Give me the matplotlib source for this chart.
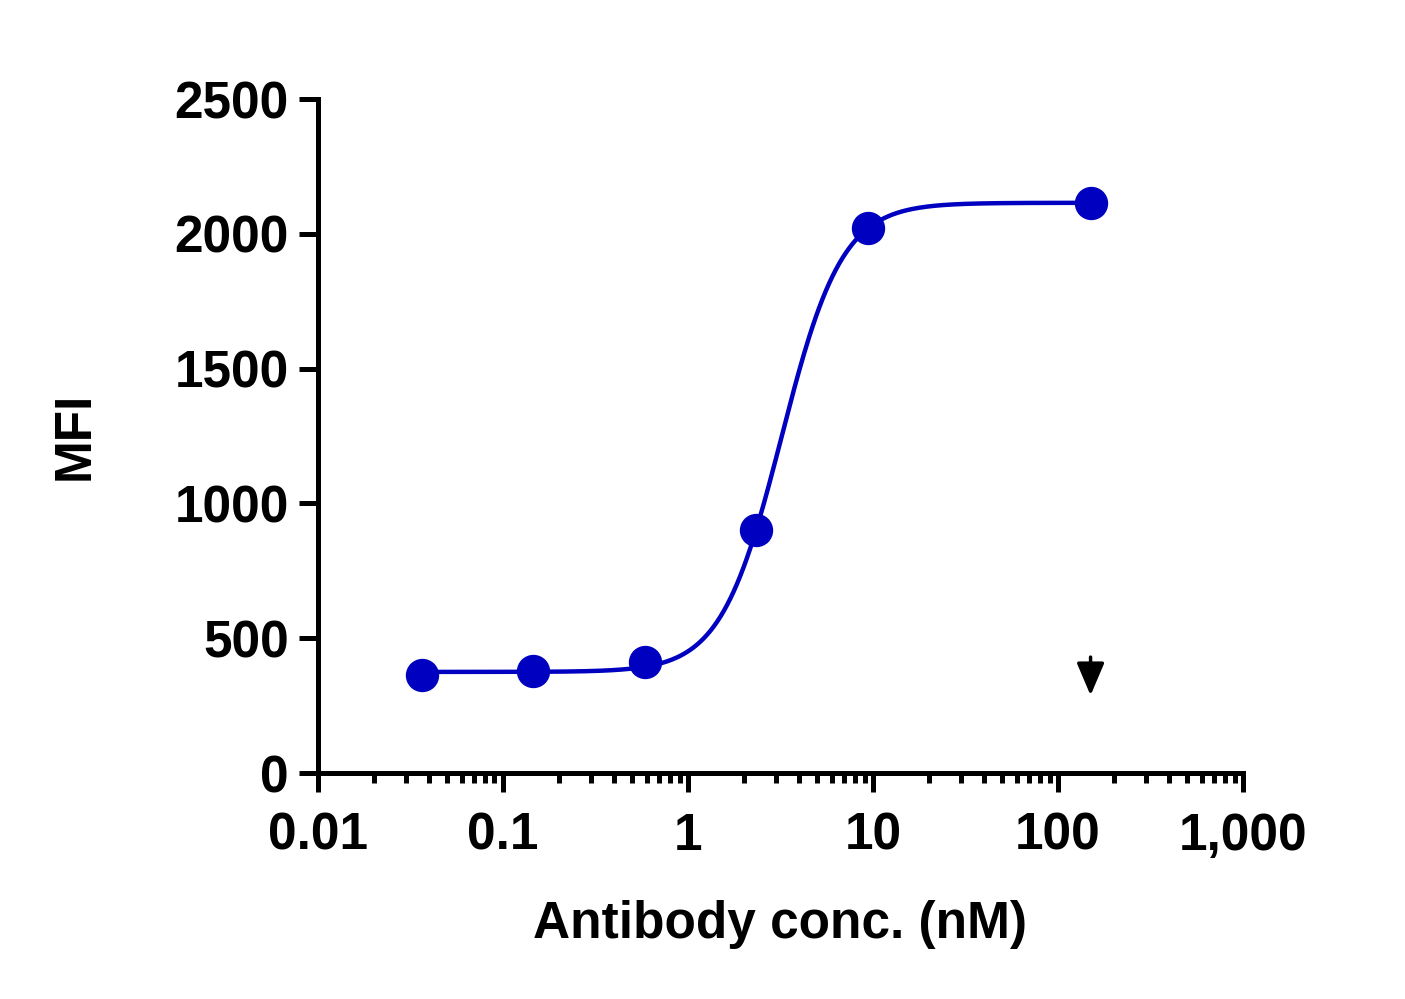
import numpy as np
import matplotlib.pyplot as plt
from matplotlib.ticker import FixedLocator, LogLocator, NullFormatter

plt.rcParams['font.family'] = ['Liberation Sans', 'DejaVu Sans']
plt.rcParams['font.weight'] = 'bold'

# measured points
conc = [0.0366, 0.146, 0.586, 2.34, 9.375, 150]
mfi = [365, 378, 410, 900, 2020, 2115]

# 4PL fit
bottom, top, ec50, hill = 375, 2115, 3.2, 2.65

# arrow marker (top and tip, data units)
arrow_x = 150
arrow_top = 430
arrow_tip = 288

xticks = [0.01, 0.1, 1, 10, 100, 1000]
xlabels = ['0.01', '0.1', '1', '10', '100', '1,000']
yticks = [0, 500, 1000, 1500, 2000, 2500]

blue = '#0000c0'

fig = plt.figure(figsize=(14.05, 9.99), dpi=100)
ax = fig.add_axes([0.2263, 0.2262, 0.6584, 0.6747])

xs = np.logspace(np.log10(conc[0]), np.log10(conc[-1]), 400)
ys = bottom + (top - bottom) / (1 + (ec50 / xs) ** hill)
ax.plot(xs, ys, color=blue, lw=3.2, zorder=2)
ax.plot(conc, mfi, 'o', color=blue, ms=23, zorder=3)

ax.annotate('', xy=(arrow_x, arrow_tip), xytext=(arrow_x, arrow_top),
            arrowprops=dict(arrowstyle='-|>,head_length=2.0,head_width=0.85',
                            color='black', lw=2.5, shrinkA=0, shrinkB=0))

ax.set_xscale('log')
ax.set_xlim(0.01, 1000)
ax.set_ylim(0, 2500)
ax.xaxis.set_major_locator(FixedLocator(xticks))
ax.set_xticklabels(xlabels)
ax.xaxis.set_minor_locator(LogLocator(base=10, subs=np.arange(2, 10)))
ax.xaxis.set_minor_formatter(NullFormatter())
ax.set_yticks(yticks)

for s in ['top', 'right']:
    ax.spines[s].set_visible(False)
for s in ['left', 'bottom']:
    ax.spines[s].set_linewidth(3.6)

ax.tick_params(axis='both', which='major', length=14, width=3.6, labelsize=37)
ax.tick_params(axis='y', which='major', pad=7)
ax.tick_params(axis='x', which='major', pad=14)
ax.tick_params(axis='x', which='minor', length=7, width=3.6)

ax.set_xlabel('Antibody conc. (nM)', fontsize=37, fontweight='bold', labelpad=28)
ax.set_ylabel('MFI', fontsize=37, fontweight='bold', labelpad=54)

fig.savefig('out.png', dpi=100)
